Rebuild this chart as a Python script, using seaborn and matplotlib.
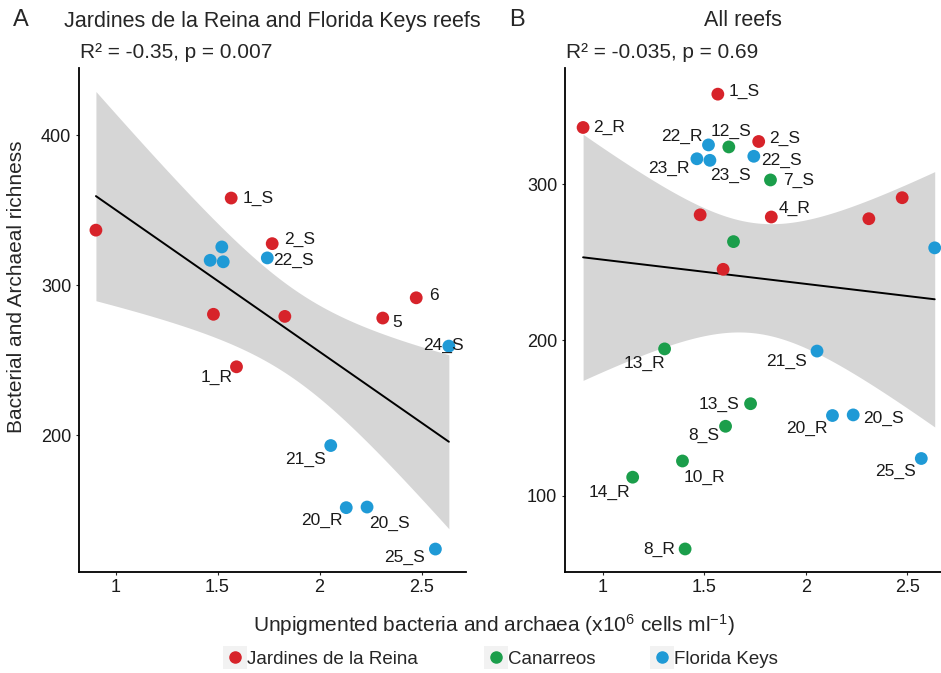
"""
Microbial richness vs unpigmented bacteria/archaea abundance, two reef panels.
"""

import numpy as np
import pandas as pd
import matplotlib
matplotlib.use('Agg')
import matplotlib.pyplot as plt
from matplotlib.patches import Rectangle
from matplotlib.lines import Line2D
import seaborn as sns

# --- data ------------------------------------------------------------------
reef = ['Jardines de la Reina'] * 8 + ['Florida Keys'] * 9 + ['Canarreos'] * 9
cells = [1.567, 0.904, 1.768, 1.480, 1.830, 2.310, 2.474, 1.593,
         1.521, 1.464, 1.528, 1.744, 2.634, 2.055, 2.131, 2.233, 2.568,
         1.621, 1.826, 1.644, 1.305, 1.728, 1.605, 1.393, 1.148, 1.406]
richness = [358.0, 336.6, 327.6, 280.5, 279.1, 278.0, 291.5, 245.5,
            325.4, 316.5, 315.5, 318.1, 259.3, 193.0, 151.6, 152.0, 124.0,
            324.1, 302.9, 263.3, 194.4, 159.2, 144.7, 122.4, 112.0, 65.9]
label_a = ['1_S', '', '2_S', '', '', '5', '6', '1_R',
           '', '', '', '22_S', '24_S', '21_S', '20_R', '20_S', '25_S',
           '', '', '', '', '', '', '', '', '']
label_b = ['1_S', '2_R', '2_S', '', '4_R', '', '', '',
           '22_R', '23_R', '23_S', '22_S', '', '21_S', '20_R', '20_S', '25_S',
           '12_S', '7_S', '', '13_R', '13_S', '8_S', '10_R', '14_R', '8_R']

reef_order = ['Jardines de la Reina', 'Canarreos', 'Florida Keys']
stats_a = 'R² = -0.35, p = 0.007'
stats_b = 'R² = -0.035, p = 0.69'

# two-sided 95% t quantiles by residual degrees of freedom
t_975 = {15: 2.131, 24: 2.064}

# --- styling ---------------------------------------------------------------
palette = {'Jardines de la Reina': '#D7232A',
           'Canarreos': '#1B9E4B',
           'Florida Keys': '#1F9AD6'}

# label offsets in pixels (dx, dy downwards, alignment)
offsets_a = {'1_S': (11, 0, 'left'), '2_S': (12, -4, 'left'), '22_S': (6, 3, 'left'),
             '6': (13, -2, 'left'), '5': (10, 4, 'left'), '24_S': (-5, -1, 'center'),
             '1_R': (-4, 11, 'right'), '21_S': (-5, 14, 'right'), '20_R': (-4, 13, 'right'),
             '20_S': (2, 16, 'left'), '25_S': (-11, 8, 'right')}
offsets_b = {'1_S': (11, -3, 'left'), '2_R': (10, 0, 'left'), '22_R': (-6, -8, 'right'),
             '12_S': (2, -16, 'center'), '2_S': (10, -3, 'left'), '23_R': (-7, 10, 'right'),
             '23_S': (0, 15, 'left'), '22_S': (7, 4, 'left'), '7_S': (13, 0, 'left'),
             '4_R': (7, -9, 'left'), '13_R': (1, 15, 'right'), '21_S': (-10, 10, 'right'),
             '13_S': (-11, 1, 'right'), '8_S': (-6, 9, 'right'), '20_R': (-5, 13, 'right'),
             '20_S': (10, 4, 'left'), '25_S': (-5, 13, 'right'), '10_R': (1, 16, 'left'),
             '14_R': (-2, 15, 'right'), '8_R': (-10, 0, 'right')}

sns.set_style('white')
plt.rcParams['font.family'] = ['Liberation Sans', 'DejaVu Sans']
plt.rcParams['mathtext.fontset'] = 'custom'
plt.rcParams['mathtext.rm'] = 'Liberation Sans'
plt.rcParams['mathtext.it'] = 'Liberation Sans:italic'

W, H = 941, 673


def fx(px):
    return px / W


def fy(py):
    return 1 - py / H


df = pd.DataFrame({'reef': reef, 'cells': cells, 'richness': richness,
                   'label_a': label_a, 'label_b': label_b})


def lm_band(x, y, grid):
    """Analytical 95% confidence band of an OLS fit (like geom_smooth)."""
    n = len(x)
    slope, intercept = np.polyfit(x, y, 1)
    resid = y - (intercept + slope * x)
    s = np.sqrt(np.sum(resid ** 2) / (n - 2))
    se = s * np.sqrt(1 / n + (grid - x.mean()) ** 2 / np.sum((x - x.mean()) ** 2))
    fit = intercept + slope * grid
    t = t_975[n - 2]
    return fit - t * se, fit + t * se


def draw_panel(ax, data, label_col, offsets, xlim, ylim, yticks):
    x = data['cells'].to_numpy()
    y = data['richness'].to_numpy()
    grid = np.linspace(x.min(), x.max(), 200)
    lo, hi = lm_band(x, y, grid)
    ax.fill_between(grid, lo, hi, color='#D6D6D6', linewidth=0, zorder=1)
    sns.regplot(data=data, x='cells', y='richness', ax=ax, scatter=False,
                ci=None, color='black', line_kws={'lw': 1.4, 'zorder': 2})
    sns.scatterplot(data=data, x='cells', y='richness', hue='reef',
                    palette=palette, s=85, edgecolor='none', legend=False,
                    ax=ax, zorder=4)
    for _, row in data.iterrows():
        lab = row[label_col]
        if not lab:
            continue
        dx, dy, ha = offsets[lab]
        ax.annotate(lab, (row['cells'], row['richness']), xytext=(dx, -dy),
                    textcoords='offset pixels', ha=ha, va='center',
                    fontsize=12.5, color='#1a1a1a', zorder=5)
    ax.set_xlim(*xlim)
    ax.set_ylim(*ylim)
    ax.set_xticks([1, 1.5, 2, 2.5])
    ax.set_xticklabels(['1', '1.5', '2', '2.5'])
    ax.set_yticks(yticks)
    ax.set_xlabel('')
    ax.set_ylabel('')
    for side in ['top', 'right']:
        ax.spines[side].set_visible(False)
    for side in ['left', 'bottom']:
        ax.spines[side].set_color('black')
        ax.spines[side].set_linewidth(1.3)
    ax.tick_params(length=2.5, width=0.8, pad=3, labelsize=13,
                   labelcolor='#1a1a1a', left=True, bottom=True)


fig = plt.figure(figsize=(W / 100, H / 100), dpi=100)
ax_a = fig.add_axes([fx(79), fy(571.7), fx(466 - 79), (571.7 - 68) / H])
ax_b = fig.add_axes([fx(565), fy(571.7), fx(941 - 565), (571.7 - 68) / H])

sub_a = df[df['reef'] != 'Canarreos']
draw_panel(ax_a, sub_a, 'label_a', offsets_a, (0.821, 2.718), (108.9, 444.7), [200, 300, 400])
draw_panel(ax_b, df, 'label_b', offsets_b, (0.815, 2.665), (51.3, 374.8), [100, 200, 300])

# panel letters, titles and stats
fig.text(fx(20.5), fy(20), 'A', fontsize=17, ha='center', va='center')
fig.text(fx(516.8), fy(20), 'B', fontsize=17, ha='center', va='center')
fig.text(fx(272.5), fy(21), 'Jardines de la Reina and Florida Keys reefs',
         fontsize=15.5, ha='center', va='center')
fig.text(fx(742.5), fy(21), 'All reefs', fontsize=15.5, ha='center', va='center')
fig.text(fx(80), fy(53), stats_a, fontsize=15, ha='left', va='center')
fig.text(fx(566), fy(53), stats_b, fontsize=15, ha='left', va='center')

# axis titles
fig.text(fx(17), fy(286.5), 'Bacterial and Archaeal richness', rotation=90,
         fontsize=15, ha='center', va='center')
fig.text(fx(494), fy(625),
         'Unpigmented bacteria and archaea (x10$^{6}$ cells ml$^{-1}$)',
         fontsize=15, ha='center', va='center')

# legend along the bottom
key_x = [234.7, 496.0, 661.5]
for name, kx in zip(reef_order, key_x):
    fig.patches.append(Rectangle((fx(kx - 12), fy(669.3)), 24 / W, 23.6 / H,
                                 transform=fig.transFigure, facecolor='#F2F2F2',
                                 edgecolor='none', zorder=0))
    fig.lines.append(Line2D([fx(kx)], [fy(657.3)], transform=fig.transFigure,
                            marker='o', markersize=8, color=palette[name],
                            linestyle='none'))
    fig.text(fx(kx + 12), fy(659), name, fontsize=13.5, ha='left', va='center')

fig.savefig('out.png', dpi=100)
